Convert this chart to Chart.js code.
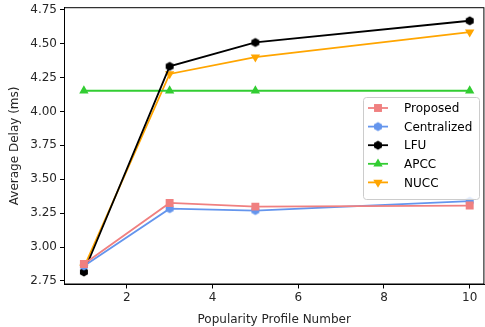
<!DOCTYPE html>
<html>
<head>
<meta charset="utf-8">
<script src="https://cdn.jsdelivr.net/npm/chart.js@4.4.0/dist/chart.umd.min.js"></script>
<style>
  html, body { margin: 0; padding: 0; background: #fff; overflow: hidden; width: 485px; height: 327px; }
  /* a bit wider/taller than the window so the plot box lands where matplotlib put it */
  #wrap { width: 490px; height: 330px; margin-top: -3px; position: relative; }
</style>
</head>
<body>
<div id="wrap"><canvas id="delayChart"></canvas></div>
<script>
// --- Data ---
const profiles = [1, 3, 5, 10];
const proposed = [2.875, 3.325, 3.298, 3.306];
const centralized = [2.86, 3.283, 3.269, 3.338];
const lfu = [2.816, 4.332, 4.508, 4.668];
const apcc = [4.152, 4.152, 4.152, 4.152];
const nucc = [2.85, 4.276, 4.4, 4.584];

const xTicks = [2, 4, 6, 8, 10];
const yTicks = [2.75, 3.00, 3.25, 3.50, 3.75, 4.00, 4.25, 4.50, 4.75];

const FONT = "'DejaVu Sans', sans-serif";
const SHIFT = 3; // canvas is shifted up by this much

// hexagon marker (matplotlib 'h')
function hexMarker(color, r) {
    const c = document.createElement('canvas');
    const s = Math.ceil(r * 2 + 2);
    c.width = s; c.height = s;
    const g = c.getContext('2d');
    g.fillStyle = color;
    g.beginPath();
    for (let i = 0; i < 6; i++) {
        const a = -Math.PI / 2 + i * Math.PI / 3;
        const px = s / 2 + r * Math.cos(a), py = s / 2 + r * Math.sin(a);
        if (i === 0) g.moveTo(px, py); else g.lineTo(px, py);
    }
    g.closePath();
    g.fill();
    return c;
}

function series(label, values, color, style, radius, rotation) {
    return {
        label: label,
        data: profiles.map((p, i) => ({ x: p, y: values[i] })),
        borderColor: color,
        backgroundColor: color,
        borderWidth: 1.8,
        pointStyle: style,
        pointRadius: radius,
        pointRotation: rotation || 0,
        pointBorderWidth: 0,
        pointBackgroundColor: color,
        tension: 0
    };
}

const datasets = [
    series('Proposed', proposed, '#F08080', 'rect', 5.6),
    series('Centralized', centralized, '#6495ED', hexMarker('#6495ED', 4.6), 4.6),
    series('LFU', lfu, '#000000', hexMarker('#000000', 4.6), 4.6),
    series('APCC', apcc, '#32CD32', 'triangle', 5.4),
    series('NUCC', nucc, '#FFA500', 'triangle', 5.4, 180)
];

// frame, x tick labels + legend drawn like matplotlib
const framePlugin = {
    id: 'frame',
    afterDraw(chart) {
        const { ctx, chartArea: a } = chart;
        const xs = chart.scales.x;
        ctx.save();
        ctx.strokeStyle = '#000';
        ctx.lineWidth = 1;
        ctx.strokeRect(a.left + 0.5, a.top + 0.5, a.right - a.left - 1, a.bottom - a.top - 1);

        ctx.font = '12px ' + FONT;
        ctx.fillStyle = '#262626';
        ctx.textAlign = 'center';
        ctx.textBaseline = 'top';
        xTicks.forEach(v => ctx.fillText(String(v), xs.getPixelForValue(v), a.bottom + 7));

        // legend box
        const bx = 363.5, by = 97.5 + SHIFT, bw = 116, bh = 102;
        ctx.fillStyle = 'rgba(255,255,255,0.8)';
        ctx.strokeStyle = '#cccccc';
        ctx.lineWidth = 1;
        ctx.beginPath();
        ctx.roundRect(bx, by, bw, bh, 3);
        ctx.fill();
        ctx.stroke();

        ctx.textAlign = 'left';
        ctx.textBaseline = 'middle';
        chart.data.datasets.forEach((ds, i) => {
            const y = 108 + SHIFT + i * 18.6;
            ctx.strokeStyle = ds.borderColor;
            ctx.lineWidth = 1.8;
            ctx.beginPath();
            ctx.moveTo(368, y);
            ctx.lineTo(388, y);
            ctx.stroke();
            ctx.fillStyle = ds.borderColor;
            Chart.helpers.drawPoint(ctx, {
                pointStyle: ds.pointStyle,
                radius: ds.pointRadius,
                rotation: ds.pointRotation,
                borderWidth: 0
            }, 378, y);
            ctx.fillStyle = '#000';
            ctx.fillText(ds.label, 404, y + 1);
        });
        ctx.restore();
    }
};

new Chart(document.getElementById('delayChart'), {
    type: 'line',
    data: { datasets: datasets },
    options: {
        responsive: true,
        maintainAspectRatio: false,
        animation: false,
        layout: { padding: { top: 7, right: 1, left: 0, bottom: 0 } },
        plugins: { legend: { display: false }, tooltip: { enabled: false } },
        scales: {
            x: {
                type: 'linear',
                min: 0.536,
                max: 10.343,
                afterBuildTicks: (s) => { s.ticks = xTicks.map(v => ({ value: v })); },
                afterFit: (s) => { s.height = 42.5; },
                grid: { drawOnChartArea: false, color: '#000', tickLength: 4 },
                border: { color: '#000', width: 1 },
                ticks: { display: false },
                title: { display: true, text: 'Popularity Profile Number', color: '#262626', font: { family: FONT, size: 12 }, padding: { top: 3, bottom: 0 } }
            },
            y: {
                min: 2.724,
                max: 4.768,
                afterBuildTicks: (s) => { s.ticks = yTicks.map(v => ({ value: v })); },
                afterFit: (s) => { s.width = 64; },
                grid: { drawOnChartArea: false, color: '#000', tickLength: 4 },
                border: { color: '#000', width: 1 },
                ticks: { color: '#262626', font: { family: FONT, size: 12 }, padding: 3, callback: (v) => v.toFixed(2) },
                title: { display: true, text: 'Average Delay (ms)', color: '#262626', font: { family: FONT, size: 12 }, padding: { top: 8, bottom: 3 } }
            }
        }
    },
    plugins: [framePlugin]
});
</script>
</body>
</html>
